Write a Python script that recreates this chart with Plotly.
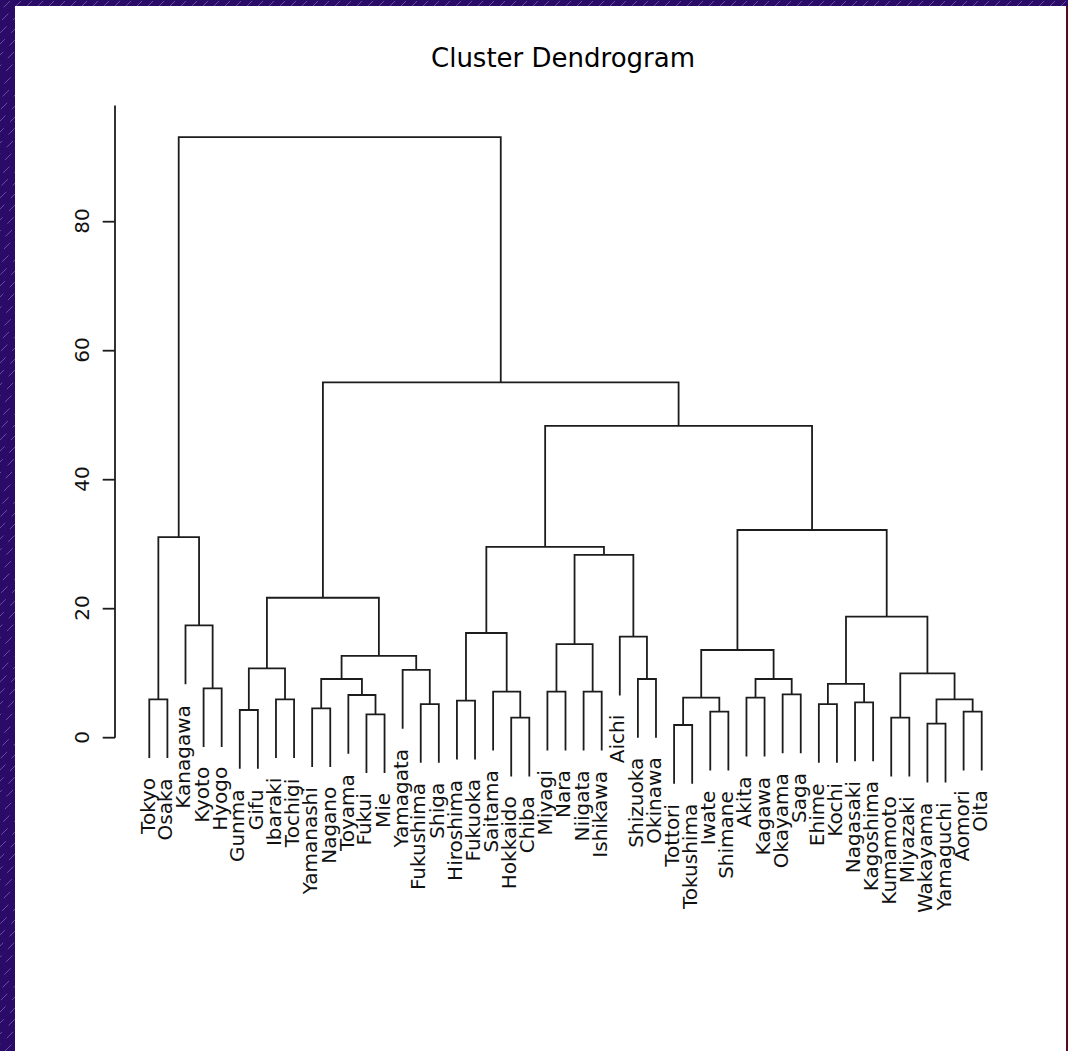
import plotly.graph_objects as go

# ---------------- data ----------------
leaf_labels = [
    "Tokyo", "Osaka", "Kanagawa", "Kyoto", "Hyogo", "Gunma", "Gifu", "Ibaraki",
    "Tochigi", "Yamanashi", "Nagano", "Toyama", "Fukui", "Mie", "Yamagata",
    "Fukushima", "Shiga", "Hiroshima", "Fukuoka", "Saitama", "Hokkaido", "Chiba",
    "Miyagi", "Nara", "Niigata", "Ishikawa", "Aichi", "Shizuoka", "Okinawa",
    "Tottori", "Tokushima", "Iwate", "Shimane", "Akita", "Kagawa", "Okayama",
    "Saga", "Ehime", "Kochi", "Nagasaki", "Kagoshima", "Kumamoto", "Miyazaki",
    "Wakayama", "Yamaguchi", "Aomori", "Oita",
]

# merge table (hclust style): a name = a leaf, an int k = the k-th merge (1-based)
merge_left = [
    "Tottori", "Wakayama", "Hokkaido", "Kumamoto", "Fukui", "Iwate", "Aomori",
    "Gunma", "Yamanashi", "Fukushima", "Ehime", "Nagasaki", "Hiroshima", "Tokyo",
    "Ibaraki", 2, 1, "Akita", "Toyama", "Okayama", "Saitama", "Miyagi", "Niigata",
    "Kyoto", 11, 9, "Shizuoka", 18, 4, "Yamagata", 8, 26, 17, 22, "Aichi", 13,
    "Kanagawa", 25, 31, 34, 36, 14, 33, 41, 39, 42,
]
merge_right = [
    "Tokushima", "Yamaguchi", "Chiba", "Miyazaki", "Mie", "Shimane", "Oita",
    "Gifu", "Nagano", "Shiga", "Kochi", "Kagoshima", "Fukuoka", "Osaka",
    "Tochigi", 7, 6, "Kagawa", 5, "Saga", 3, "Nara", "Ishikawa",
    "Hyogo", 12, 19, "Okinawa", 20, 16, 10, 15, 30, 28, 23, 27, 21,
    24, 29, 32, 35, 40, 37, 38, 43, 44, 45,
]
merge_height = [
    1.97, 2.17, 3.10, 3.10, 3.63, 4.03, 4.03, 4.29, 4.56, 5.22, 5.22, 5.48,
    5.74, 5.95, 5.95, 5.95, 6.20, 6.20, 6.62, 6.72, 7.13, 7.13, 7.13, 7.66,
    8.33, 9.10, 9.10, 9.10, 9.98, 10.50, 10.76, 12.67, 13.60, 14.50, 15.66,
    16.23, 17.40, 18.76, 21.70, 28.33, 29.57, 31.10, 32.20, 48.33, 55.08, 93.10,
]

y_tick_values = [0, 20, 40, 60, 80]
y_axis_top = 98
title_text = "Cluster Dendrogram"

# ---------------- geometry / style ----------------
FIG_W, FIG_H = 1068, 1051
M_L, M_R, M_T, M_B = 100, 48, 90, 251
PLOT_W = FIG_W - M_L - M_R
PLOT_H = FIG_H - M_T - M_B
x_range = [-1.7244, 49.116]
y_range = [-9.66, 100.42]
LINE_COLOR = "#1c1c1c"
LINE_W = 1.8
FONT = "DejaVu Sans"
BG_PURPLE = "#2a0b68"


def paper_x(px):
    return (px - M_L) / PLOT_W


def paper_y(py):
    return (FIG_H - M_B - py) / PLOT_H


# ---------------- build dendrogram segments ----------------
hang = 0.1 * (max(merge_height) - min(merge_height))
leaf_pos = {name: i + 1 for i, name in enumerate(leaf_labels)}
node_x, node_h = [], []
leaf_end = {}
seg_x, seg_y = [], []


def child_info(ref, parent_h):
    if isinstance(ref, str):
        leaf_end[ref] = parent_h - hang
        return leaf_pos[ref], parent_h - hang
    return node_x[ref - 1], node_h[ref - 1]


for left, right, h in zip(merge_left, merge_right, merge_height):
    xl, yl = child_info(left, h)
    xr, yr = child_info(right, h)
    seg_x += [xl, xl, xr, xr, None]
    seg_y += [yl, h, h, yr, None]
    node_x.append((xl + xr) / 2)
    node_h.append(h)

fig = go.Figure()
fig.add_trace(go.Scatter(
    x=seg_x, y=seg_y, mode="lines",
    line=dict(color=LINE_COLOR, width=LINE_W), hoverinfo="skip", showlegend=False,
))

# y axis (drawn R-style)
axis_x = 1 + (115 - 149.3) / 18.096
tick_x0 = 1 + (102.7 - 149.3) / 18.096
ax_x, ax_y = [axis_x, axis_x, None], [0, y_axis_top, None]
for v in y_tick_values:
    ax_x += [tick_x0, axis_x, None]
    ax_y += [v, v, None]
fig.add_trace(go.Scatter(
    x=ax_x, y=ax_y, mode="lines",
    line=dict(color=LINE_COLOR, width=LINE_W), hoverinfo="skip", showlegend=False,
))

annotations = []
for v in y_tick_values:
    annotations.append(dict(
        x=axis_x, y=v, xref="x", yref="y", text=str(v), showarrow=False,
        textangle=-90, xanchor="center", yanchor="middle", xshift=-33,
        font=dict(family=FONT, size=20, color="#111111"),
    ))

for name in leaf_labels:
    annotations.append(dict(
        x=leaf_pos[name], y=leaf_end[name], xref="x", yref="y", text=name,
        showarrow=False, textangle=-90, xanchor="center", yanchor="top",
        yshift=-18, xshift=-2,
        font=dict(family=FONT, size=20, color="#111111"),
    ))

annotations.append(dict(
    x=paper_x(563), y=paper_y(58), xref="paper", yref="paper", text=title_text,
    showarrow=False, xanchor="center", yanchor="middle",
    font=dict(family=FONT, size=26, color="#000000"),
))

# background: purple striped frame + white panel
shapes = []
step = 11
for c in range(-FIG_H, FIG_W + step, step):
    shapes.append(dict(
        type="line", xref="paper", yref="paper", layer="below",
        x0=paper_x(c), y0=paper_y(FIG_H), x1=paper_x(c + FIG_H), y1=paper_y(0),
        line=dict(color="rgba(190,150,220,0.45)", width=1, dash="dash"),
    ))
shapes.append(dict(
    type="rect", xref="paper", yref="paper", layer="below",
    x0=paper_x(15), x1=paper_x(1066), y0=paper_y(FIG_H + 5), y1=paper_y(6),
    fillcolor="white", line=dict(width=0),
))
shapes.append(dict(
    type="rect", xref="paper", yref="paper", layer="below",
    x0=paper_x(1066), x1=paper_x(1070), y0=paper_y(FIG_H + 5), y1=paper_y(6),
    fillcolor="#5a0a1a", line=dict(width=0),
))

fig.update_layout(
    width=FIG_W, height=FIG_H, autosize=False,
    margin=dict(l=M_L, r=M_R, t=M_T, b=M_B, pad=0),
    paper_bgcolor=BG_PURPLE, plot_bgcolor="rgba(0,0,0,0)",
    xaxis=dict(range=x_range, visible=False, fixedrange=True),
    yaxis=dict(range=y_range, visible=False, fixedrange=True),
    annotations=annotations, shapes=shapes, showlegend=False,
)

fig.write_html(
    "out.html",
    config={"displayModeBar": False, "staticPlot": True},
    post_script="document.body.style.margin='0';document.body.style.overflow='hidden';",
)
